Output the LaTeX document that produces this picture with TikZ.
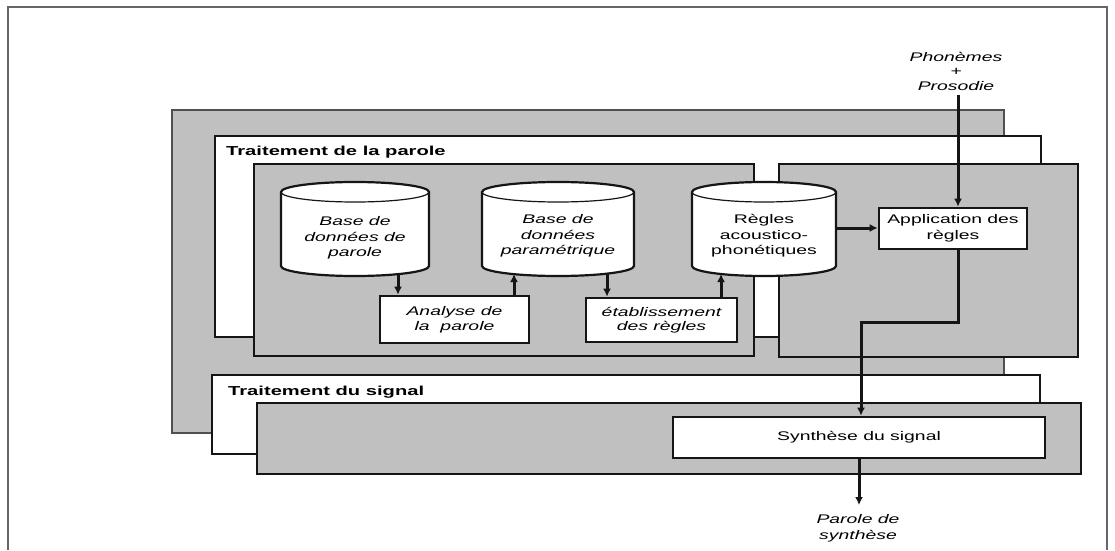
\documentclass[tikz,border=0pt]{standalone}
\usepackage{fontspec}
\setmainfont{Liberation Sans}[FakeStretch=1.55]
\usetikzlibrary{arrows.meta}
\definecolor{panelgray}{HTML}{C0C0C0}
\definecolor{linedark}{HTML}{151515}
\newcommand\drawcyl[2]{%
  \filldraw[cylbody] ({#1-#2},358) -- ({#1-#2},284)
    arc[start angle=180,end angle=360,x radius=#2,y radius=10]
    -- ({#1+#2},358)
    arc[start angle=0,end angle=180,x radius=#2,y radius=10] -- cycle;
  \draw[cylrim] ({#1-#2},358) arc[start angle=180,end angle=360,x radius=#2,y radius=10];
}
\begin{document}
\begin{tikzpicture}[x=1pt,y=1pt,
  backpanel/.style={fill=panelgray,draw=linedark!75,line width=1.3pt},
  whitepanel/.style={fill=white,draw=linedark,line width=2.6pt},
  graypanel/.style={fill=panelgray,draw=linedark,line width=2.6pt},
  cylbody/.style={fill=white,draw=linedark,line width=2.2pt},
  cylrim/.style={draw=linedark,line width=1.2pt},
  procbox/.style={draw=linedark,fill=white,line width=2.6pt,inner sep=0pt,align=center,
    font=\fontsize{12.5}{15.5}\selectfont},
  lab/.style={inner sep=0pt,align=center,font=\fontsize{12.5}{15.5}\selectfont},
  ilab/.style={lab,font=\fontsize{12.5}{15.5}\selectfont\itshape},
  title/.style={inner sep=0pt,anchor=west,font=\fontsize{13}{15}\selectfont\bfseries},
  arr/.style={draw=linedark,line width=3pt,-{Latex[length=8pt,width=8pt]}},
  frame/.style={draw=black!60,line width=1.2pt}
]
\useasboundingbox (0,0) rectangle (1115,550);
\fill[white] (0,0) rectangle (1115,550);
% outer frame
\draw[frame] (8,0) -- (8,543) -- (1107,543) -- (1107,0);

% panels
\draw[backpanel] (172,440) rectangle (1004,117);
\draw[whitepanel] (215,414) rectangle (1041,213);
\draw[graypanel] (254,386) rectangle (754,194);
\draw[graypanel] (779,386) rectangle (1078,193);
\draw[whitepanel] (212,175) rectangle (1040,96);
\draw[graypanel] (257,147) rectangle (1081,76);

% titles
\node[title] (t1) at (226,398) {Traitement de la parole};
\node[title] (t2) at (228,158) {Traitement du signal};

% cylinders
\drawcyl{355}{74}
\drawcyl{558}{76}
\drawcyl{764}{72}
\node[ilab] (c1) at (355,312) {Base de\\données de\\parole};
\node[ilab] (c2) at (558,314) {Base de\\données\\paramétrique};
\node[lab] (c3) at (764,314) {Règles\\acoustico-\\phonétiques};

% process boxes
\node[procbox,minimum width=149pt,minimum height=47pt,font=\fontsize{12.5}{15}\selectfont\itshape]
  (an) at (454.5,230.5) {Analyse de\\la~~parole};
\node[procbox,minimum width=151pt,minimum height=44pt,font=\fontsize{12.5}{14.5}\selectfont\itshape]
  (et) at (661.5,230) {établissement\\des règles};
\node[procbox,minimum width=148pt,minimum height=41pt,font=\fontsize{12.5}{16}\selectfont]
  (app) at (953,321.5) {Application des\\règles};
\node[procbox,minimum width=372pt,minimum height=41pt]
  (syn) at (859,112.5) {Synthèse du signal};

% external labels
\node[ilab,font=\fontsize{12.5}{14.5}\selectfont\itshape] (ph) at (956,479) {Phonèmes\\+\\Prosodie};
\node[ilab,font=\fontsize{12.5}{16}\selectfont\itshape] (out) at (858,22) {Parole de\\synthèse};

% connector anchor points
\coordinate (c1o) at (398,276);
\coordinate (c2i) at (514,276);
\coordinate (c2o) at (607,276);
\coordinate (c3i) at (721,276);
\coordinate (c3r) at (836,322);
\coordinate (phin) at (958,455);
\coordinate (sx) at (861,228);
\coordinate (outend) at (859,45);

% connectors
\draw[arr] (c1o) -- (c1o |- an.north);
\draw[arr] (an.north -| c2i) -- (c2i);
\draw[arr] (c2o) -- (c2o |- et.north);
\draw[arr] (et.north -| c3i) -- (c3i);
\draw[arr] (c3r) -- (c3r -| app.west);
\draw[arr] (phin) -- (phin |- app.north);
\draw[arr] (app.south -| phin) |- (sx) -- (sx |- syn.north);
\draw[arr] (syn.south -| outend) -- (outend);
\end{tikzpicture}
\end{document}
